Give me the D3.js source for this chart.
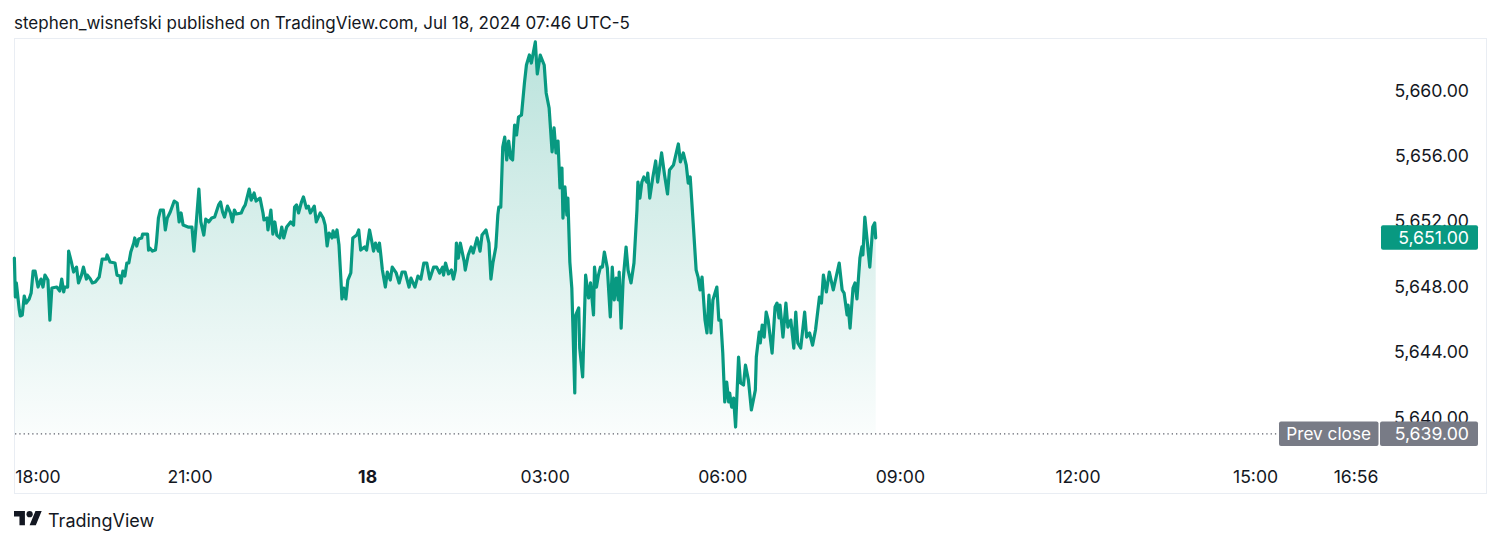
<!DOCTYPE html>
<html>
<head>
<meta charset="utf-8">
<script src="https://cdn.jsdelivr.net/npm/d3@7"></script>
<style>
  html, body { margin: 0; padding: 0; background: #fff; }
  svg { display: block; }
  text { font-family: Inter, "Noto Sans", sans-serif; fill: #131722; }
</style>
</head>
<body>
<svg id="chart" width="1500" height="544"></svg>
<script>
// minutes after 18:00 on Jul 17
const minutes = [
  2,3,4,7,8,10,12,14,17,19,21,23,26,29,31,33,36,38,40,45,48,50,52,53,56,57,60,62,65,67,70,72,75,76,79,81,84,88,91,95,96,99,
  104,106,109,110,112,114,116,118,120,123,124,126,128,131,132,137,138,139,142,145,146,148,150,153,155,157,160,164,167,169,171,173,178,182,184,186,189,191,194,196,199,
  202,205,209,211,213,215,218,221,223,225,227,232,234,236,240,242,245,247,251,254,255,258,259,262,264,266,268,271,273,275,278,282,285,286,288,290,293,295,298,
  300,302,306,308,312,315,317,319,321,324,325,327,329,331,333,334,336,338,340,343,345,349,351,353,357,359,362,364,366,368,371,372,373,375,378,380,383,385,389,392,395,398,
  402,404,408,411,414,417,420,423,427,430,433,436,437,439,442,445,447,449,450,452,454,458,459,462,465,467,471,474,476,480,483,485,487,490,492,493,495,497,499,
  501,503,505,507,509,511,513,516,519,521,524,526,530,532,535,539,541,544,547,549,551,553,555,557,558,560,562,563,565,567,570,571,574,575,578,581,584,586,589,590,592,594,596,598,
  600,603,606,608,610,612,614,615,617,619,622,624,627,630,633,634,636,638,640,643,644,646,649,652,654,658,661,664,666,670,675,677,680,683,685,687,690,693,695,697,699,
  702,704,706,708,710,714,716,718,720,722,724,726,727,729,731,733,736,738,741,743,746,749,753,754,757,758,760,762,764,766,770,773,775,777,778,781,784,786,789,792,794,796,799,
  803,805,808,811,814,818,820,822,825,828,832,838,841,843,846,847,849,852,854,856,859,861,862,864,867,869,872,874,875
];
const prices = [
  5649.72,5647.34,5648.20,5646.54,5646.18,5646.24,5647.40,5646.97,5647.22,5647.58,5648.93,5648.93,5647.95,5648.44,5647.95,5648.68,5648.38,5645.93,5647.89,5647.95,5647.71,5648.44,5647.65,5647.95,5647.95,5650.15,5649.42,5648.87,5649.17,5648.20,5648.68,5649.17,5648.44,5648.68,5648.44,5648.20,5648.26,5648.56,5649.66,5649.66,5649.91,5649.48,
  5649.42,5648.68,5648.62,5648.20,5648.93,5648.62,5649.42,5649.42,5650.09,5650.64,5650.95,5650.46,5650.89,5650.95,5651.19,5651.19,5650.21,5650.34,5650.15,5650.21,5650.70,5652.17,5652.66,5652.66,5651.44,5652.17,5652.54,5653.21,5653.09,5651.93,5652.48,5651.74,5651.62,5651.62,5650.15,5651.62,5653.94,5651.93,5651.13,5652.11,5651.93,
  5652.17,5652.23,5652.97,5653.15,5652.54,5652.23,5652.90,5652.48,5651.93,5652.66,5652.42,5652.48,5652.78,5652.97,5653.94,5653.27,5653.70,5653.21,5653.39,5652.48,5652.05,5652.17,5651.44,5652.66,5651.19,5651.93,5651.13,5650.95,5651.62,5650.95,5651.62,5651.93,5651.74,5652.84,5652.97,5652.48,5653.15,5653.46,5652.78,
  5652.90,5652.48,5652.90,5651.93,5652.48,5652.17,5651.74,5650.46,5651.25,5650.95,5651.38,5651.01,5651.44,5650.52,5648.38,5647.22,5647.89,5647.22,5648.38,5648.81,5650.95,5651.13,5651.44,5650.21,5650.40,5650.21,5651.44,5650.83,5650.15,5650.64,5650.15,5650.64,5650.15,5648.99,5647.95,5648.87,5648.38,5649.17,5648.81,5648.20,5648.87,5648.87,
  5647.95,5648.50,5647.95,5648.62,5648.44,5649.42,5649.42,5648.44,5649.17,5649.17,5648.81,5649.17,5648.68,5649.42,5648.75,5648.99,5648.44,5648.99,5650.64,5649.72,5650.64,5649.48,5648.99,5649.91,5650.40,5650.03,5650.95,5650.15,5651.13,5651.44,5650.64,5648.44,5649.42,5650.40,5652.35,5652.84,5652.84,5656.51,5657.12,
  5655.72,5656.88,5655.84,5655.72,5657.86,5657.25,5658.35,5658.47,5660.43,5661.53,5662.14,5661.65,5662.94,5660.98,5662.14,5661.53,5659.82,5658.90,5656.21,5657.68,5656.15,5656.88,5654.01,5655.23,5652.17,5654.07,5652.35,5653.39,5649.48,5647.89,5641.47,5646.24,5646.67,5644.22,5642.45,5648.68,5647.28,5648.20,5646.24,5649.17,5647.95,5648.68,5649.17,5649.17,
  5650.09,5649.11,5646.12,5649.17,5647.16,5648.50,5647.16,5648.87,5645.44,5648.38,5650.40,5648.99,5648.20,5649.42,5652.66,5654.37,5653.39,5654.37,5654.68,5654.37,5654.92,5653.39,5654.62,5655.66,5654.37,5656.15,5654.80,5653.64,5655.11,5655.41,5656.70,5655.60,5656.15,5655.41,5654.31,5654.68,5651.87,5648.99,5648.56,5647.77,5648.56,
  5645.93,5645.14,5647.46,5645.14,5647.16,5647.95,5645.93,5645.93,5643.91,5640.92,5642.14,5640.92,5641.47,5640.61,5641.16,5639.39,5643.67,5642.08,5641.96,5643.18,5642.26,5640.43,5641.65,5643.67,5645.20,5644.53,5645.63,5644.89,5646.42,5645.93,5643.91,5646.73,5646.97,5646.06,5646.85,5644.89,5646.97,5645.50,5645.93,5644.22,5646.42,5644.53,5644.22,
  5646.42,5644.89,5645.14,5644.40,5645.32,5647.34,5646.97,5648.68,5647.65,5648.87,5647.77,5649.42,5647.77,5647.58,5646.24,5646.85,5645.44,5647.89,5648.20,5647.22,5649.72,5650.40,5649.91,5652.23,5650.40,5649.17,5651.62,5651.87,5650.95
];
const priceTicks = [5660, 5656, 5652, 5648, 5644, 5640];
const timeTicks  = [0, 180, 360, 540, 720, 900, 1080, 1260, 1376];
const timeLabels = ['18:00', '21:00', '18', '03:00', '06:00', '09:00', '12:00', '15:00', '16:56'];
const lastPrice = 5651;
const prevClose = 5639;

const series = minutes.map((m, i) => ({ m, p: prices[i] }));

const green = '#089981', grey = '#787b86', frame = '#e9edf3';
const svg = d3.select('#chart');

const x = d3.scaleLinear().domain([0, 1376]).range([12.4, 1370]);
const y = d3.scaleLinear().domain([5639, 5660]).range([433.4, 90]);

// header
svg.append('text').attr('x', 14).attr('y', 29).attr('font-size', 17).text(
  'stephen_wisnefski published on TradingView.com, Jul 18, 2024 07:46 UTC-5');

// chart frame
svg.append('rect')
  .attr('x', 14.5).attr('y', 38.5).attr('width', 1472).attr('height', 455)
  .attr('fill', 'none').attr('stroke', frame);

// area fill, fading towards the prev close level
const grad = svg.append('defs').append('linearGradient')
  .attr('id', 'fade').attr('gradientUnits', 'userSpaceOnUse')
  .attr('x1', 0).attr('x2', 0).attr('y1', 42).attr('y2', y(prevClose));
grad.append('stop').attr('offset', 0).attr('stop-color', green).attr('stop-opacity', 0.28);
grad.append('stop').attr('offset', 1).attr('stop-color', green).attr('stop-opacity', 0.02);

svg.append('path').datum(series)
  .attr('fill', 'url(#fade)')
  .attr('d', d3.area().x(d => x(d.m)).y0(y(prevClose)).y1(d => y(d.p)));

// prev close dotted line
svg.append('line')
  .attr('x1', 15).attr('x2', 1279).attr('y1', y(prevClose) + 0.5).attr('y2', y(prevClose) + 0.5)
  .attr('stroke', '#5d606b').attr('stroke-width', 1.3).attr('stroke-dasharray', '1.3 3');

svg.append('path').datum(series)
  .attr('fill', 'none').attr('stroke', green).attr('stroke-width', 3.2)
  .attr('stroke-linejoin', 'round').attr('stroke-linecap', 'round')
  .attr('d', d3.line().x(d => x(d.m)).y(d => y(d.p)));

// price axis
const yAxis = svg.append('g').attr('transform', 'translate(1469,0.5)')
  .call(d3.axisRight(y).tickValues(priceTicks).tickSize(0).tickPadding(0).tickFormat(d3.format(',.2f')));
yAxis.select('.domain').remove();
yAxis.attr('font-family', null);
yAxis.selectAll('text').attr('text-anchor', 'end').attr('font-size', 17.7).attr('fill', null);

// time axis; outer labels are kept inside the pane like TradingView does
const xAxis = svg.append('g').attr('transform', 'translate(0,476.5)')
  .call(d3.axisBottom(x).tickValues(timeTicks).tickSize(0).tickPadding(0)
    .tickFormat((d, i) => timeLabels[i]));
xAxis.select('.domain').remove();
xAxis.attr('font-family', null);
xAxis.selectAll('.tick').attr('transform', d => `translate(${Math.max(38, Math.min(1356, x(d)))},0)`);
xAxis.selectAll('text').attr('y', 0).attr('dy', '0.36em').attr('font-size', 17.6)
  .attr('fill', null)
  .attr('font-weight', (d, i) => timeLabels[i] === '18' ? 700 : 400);

// price labels
function pill(x0, w, value, fill, label, size, pad) {
  svg.append('rect').attr('x', x0).attr('y', y(value) - 12).attr('width', w).attr('height', 24.5)
    .attr('rx', 2).attr('fill', fill);
  svg.append('text').attr('x', x0 + w - pad).attr('y', y(value) + 0.5).attr('dy', '0.36em')
    .attr('text-anchor', 'end').attr('font-size', size).style('fill', '#fff').text(label);
}
pill(1381, 97, lastPrice, green, d3.format(',.2f')(lastPrice), 17.7, 9);
pill(1279, 99.5, prevClose, grey, 'Prev close', 17.2, 7.5);
pill(1380, 98, prevClose, grey, d3.format(',.2f')(prevClose), 17.7, 9);

// footer logo
const logo = svg.append('g').attr('transform', 'translate(14,508) scale(0.78)').attr('fill', '#131722');
logo.append('path').attr('d', 'M14 22H7V11H0V4h14v18zM28 22h-8l7.5-18h8L28 22z');
logo.append('circle').attr('cx', 20).attr('cy', 8).attr('r', 4);
svg.append('text').attr('x', 48).attr('y', 526.5).attr('font-size', 18).text('TradingView');
</script>
</body>
</html>
